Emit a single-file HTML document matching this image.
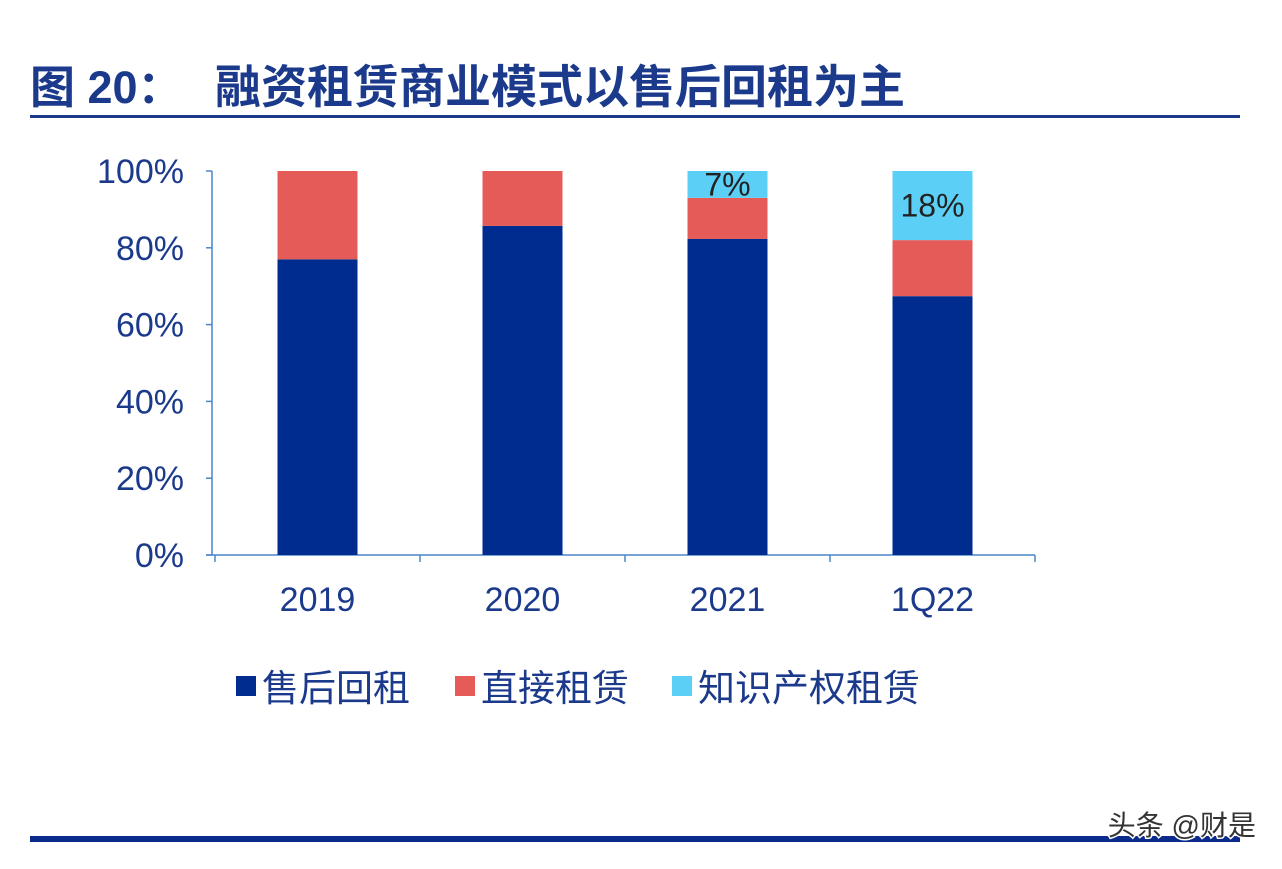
<!DOCTYPE html>
<html><head><meta charset="utf-8"><style>
body{margin:0;width:1282px;height:864px;background:#fff;overflow:hidden;font-family:"Liberation Sans","Noto Sans CJK SC",sans-serif;}
</style></head><body>
<svg width="1282" height="864" xmlns="http://www.w3.org/2000/svg">
<text x="30" y="103" font-size="45" font-weight="bold" fill="#1B3A8C" font-family="Liberation Sans, Noto Sans CJK SC, sans-serif">图 20：</text>
<text x="215" y="103" font-size="46" font-weight="bold" fill="#1B3A8C" font-family="Liberation Sans, Noto Sans CJK SC, sans-serif">融资租赁商业模式以售后回租为主</text>
<rect x="30" y="115" width="1210" height="3" fill="#1B3A8C"/>
<rect x="30" y="836" width="1210" height="6" fill="#0A2A8C"/>
<text x="1256" y="835" font-size="28" fill="#333" text-anchor="end" font-family="Liberation Sans, Noto Sans CJK SC, sans-serif" stroke="#fff" stroke-width="3" paint-order="stroke">头条 @财是</text>
<g id="plot"></g>
</svg>
<script>
const categories=["2019","2020","2021","1Q22"];
const seriesNames=["售后回租","直接租赁","知识产权租赁"];
const leaseback=[77,85.7,82.3,67.4];
const direct=[23,14.3,10.7,14.6];
const ip=[0,0,7,18];
const ipLabels=["","","7%","18%"];
const yTicks=[0,20,40,60,80,100];
const colors=["#002B8F","#E45B58","#5BCFF5"];
const NS="http://www.w3.org/2000/svg";
const g=document.getElementById('plot');
const xa0=212,x0=215,x1=1035,y0=555,y1=171;
const yS=v=>y0-(v/100)*(y0-y1);
const bw=(x1-x0)/categories.length;
const xC=i=>x0+bw*(i+0.5);
function mk(t,a){const e=document.createElementNS(NS,t);for(const k in a)e.setAttribute(k,a[k]);g.appendChild(e);return e;}
let ax=mk('line',{x1:xa0,y1:y1,x2:xa0,y2:y0,stroke:'#4A86C8','stroke-width':1.5});


yTicks.forEach(v=>{
 let t=mk('line',{x1:xa0-6,y1:yS(v),x2:xa0,y2:yS(v),stroke:'#4A86C8','stroke-width':1.5});
 
 
 let l=mk('text',{x:184,y:yS(v)+12,'font-size':34,fill:'#1B3A8C','text-anchor':'end'});
 l.textContent=v+'%';
 
 
});
let xa=mk('line',{x1:xa0-6,y1:y0,x2:x1,y2:y0,stroke:'#4A86C8','stroke-width':1.5});


for(let i=0;i<=categories.length;i++){
 let t=mk('line',{x1:x0+bw*i,y1:y0,x2:x0+bw*i,y2:y0+7,stroke:'#4A86C8','stroke-width':1.5});
 
 
}
const series=[leaseback,direct,ip];
categories.forEach((c,i)=>{
 let base=0;
 series.forEach((s,k)=>{
  if(s[i]>0){
   let r=mk('rect',{x:xC(i)-40,y:yS(base+s[i]),width:80,height:yS(base)-yS(base+s[i]),fill:colors[k]});
   
   
  }
  base+=s[i];
 });
 if(ipLabels[i]){
  let l=mk('text',{x:xC(i),y:yS(100-ip[i]/2)+11,'font-size':32,fill:'#222','text-anchor':'middle'});
  l.textContent=ipLabels[i];
  
  
 }
 let xl=mk('text',{x:xC(i),y:611,'font-size':34,fill:'#1B3A8C','text-anchor':'middle'});
 xl.textContent=c;
 
 
});
const legX=[236,455,672];
seriesNames.forEach((n,k)=>{
 let r=mk('rect',{x:legX[k],y:676,width:20,height:20,fill:colors[k]});
 
 
 let t=mk('text',{x:legX[k]+26,y:701,'font-size':37,fill:'#1B3A8C'});
 t.textContent=n;
 
 
});
</script>
</body></html>
